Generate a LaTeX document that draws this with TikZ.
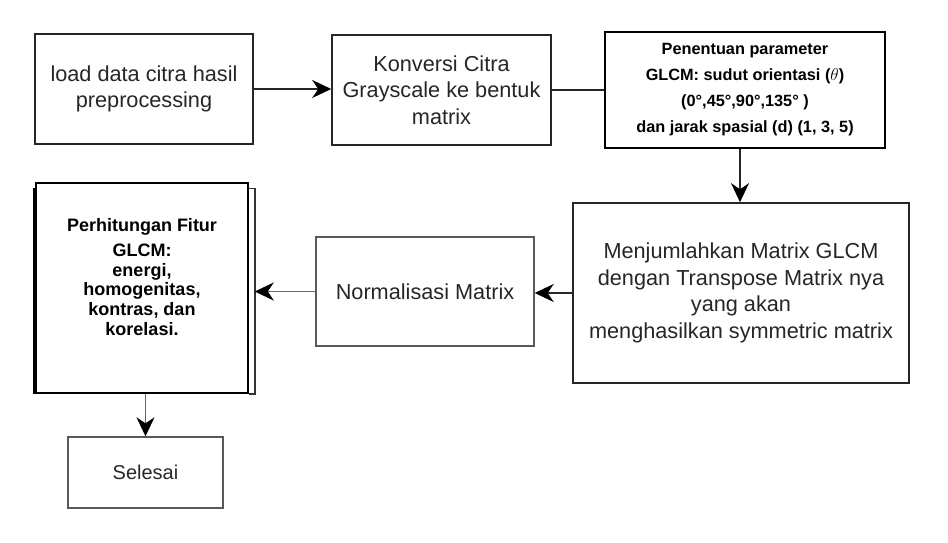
\documentclass[tikz,border=0pt]{standalone}
\usepackage{fontspec}
\setmainfont{Liberation Sans}
\usetikzlibrary{arrows.meta}

\tikzset{
  stepbox/.style={draw=black!85, line width=1.6pt, align=center, inner sep=0pt,
    text=black!85, font=\fontsize{21.7}{26.7}\selectfont},
  lightbox/.style={stepbox, draw=black!65, line width=1.4pt},
  boldbox/.style={stepbox, draw=black, text=black,
    font=\bfseries\fontsize{16.3}{26}\selectfont},
  flow/.style={line width=1.8pt, draw=black!85,
    -{Stealth[length=19pt,width=18pt,inset=6pt,color=black]}},
  lightflow/.style={flow, draw=black!60, line width=1.5pt},
}

\begin{document}
\begin{tikzpicture}[x=1pt, y=-1pt]

  %% Page size.
  \useasboundingbox (0,0) rectangle (948,543);


  %% Top row of boxes:
  \node[stepbox, minimum width=218pt, minimum height=110pt] (load) at (144,89)
  {load data citra hasil\\preprocessing};
  \node[stepbox, minimum width=219pt, minimum height=110pt] (konversi) at (441.5,90)
  {Konversi Citra\\Grayscale ke bentuk\\matrix};
  \node[boldbox, minimum width=280pt, minimum height=116pt] (param) at (745,90)
  {Penentuan parameter\\GLCM: sudut orientasi ($\theta$)\\(0°,45°,90°,135° )\\dan jarak spasial (d) (1, 3, 5)};


  %% Middle row:
  \node[stepbox, minimum width=336pt, minimum height=180pt] (jumlah) at (741,293)
  {Menjumlahkan Matrix GLCM\\dengan Transpose Matrix nya\\yang akan\\menghasilkan symmetric matrix};
  \node[lightbox, minimum width=218pt, minimum height=109pt] (norm) at (425,291.5)
  {Normalisasi Matrix};

  %% Feature box (with its double edge) and its text
  \node[stepbox, draw=black, line width=1.5pt, minimum width=212pt, minimum height=210pt]
  (fitur) at (142,288) {};
  \node[align=center, inner sep=0pt, font=\bfseries\fontsize{18}{19.7}\selectfont]
  (fiturtext) at (142,277)
  {Perhitungan Fitur\\[5pt]GLCM:\\energi,\\homogenitas,\\kontras, dan\\korelasi.};
  \draw[line width=1.5pt, draw=black!80]
  ([yshift=-6pt]fitur.north east) -- ++(6,0) |- (fitur.south east);
  \draw[line width=1.6pt]
  ([yshift=-6pt,xshift=-1.5pt]fitur.north west) -- ([xshift=-1.5pt]fitur.south west);


  %% Last box:
  \node[lightbox, font=\fontsize{20}{24}\selectfont, minimum width=155pt, minimum height=71pt]
  (selesai) at (145.5,472.5) {Selesai};


  %% Connectors:
  \draw[flow] (load.east) -- (load.east -| konversi.west);
  \draw[line width=1.8pt, draw=black!85] (konversi.east) -- (konversi.east -| param.west);
  \draw[flow] ([xshift=-5pt]param.south) -- ([xshift=-5pt]param.south |- jumlah.north);
  \draw[flow] (jumlah.west) -- (jumlah.west -| norm.east);
  \draw[lightflow] (norm.west) -- ([xshift=6pt]norm.west -| fitur.east);
  \draw[lightflow] (selesai.north |- fitur.south) -- (selesai.north);

\end{tikzpicture}
\end{document}
